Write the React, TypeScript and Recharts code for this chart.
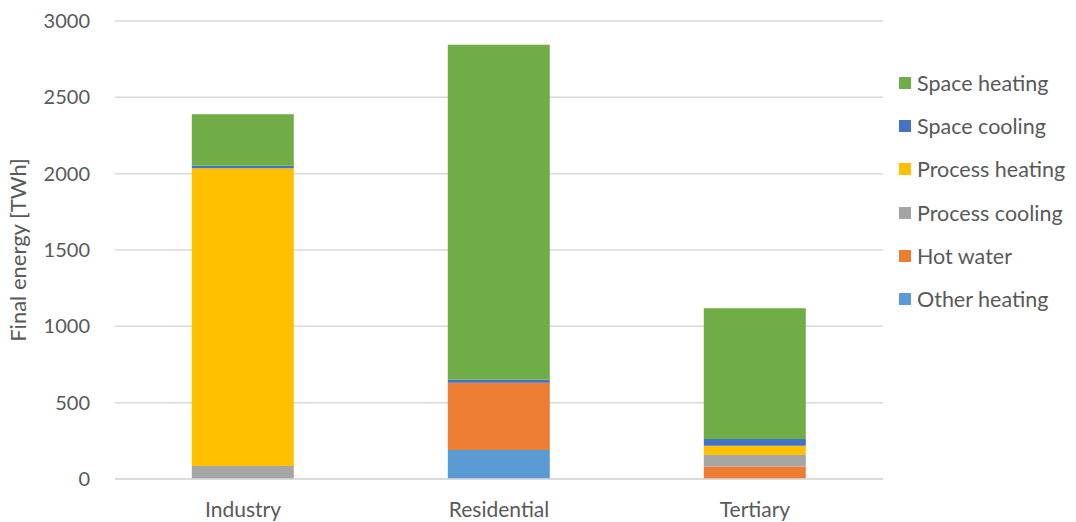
import { BarChart, Bar, XAxis, YAxis, CartesianGrid } from "recharts";

// sectors on the x axis
const sectors = ["Industry", "Residential", "Tertiary"];

// stacked from the bottom up, values in TWh
const otherHeating = [0, 190, 0];
const hotWater = [0, 440, 82];
const processCooling = [85, 0, 75];
const processHeating = [1950, 0, 61];
const spaceCooling = [17, 22, 44];
const spaceHeating = [337, 2192, 856];

const yTicks = [0, 500, 1000, 1500, 2000, 2500, 3000];

const SERIES = [
  { key: "Other heating", values: otherHeating, color: "#5B9BD5" },
  { key: "Hot water", values: hotWater, color: "#ED7D31" },
  { key: "Process cooling", values: processCooling, color: "#A5A5A5" },
  { key: "Process heating", values: processHeating, color: "#FFC000" },
  { key: "Space cooling", values: spaceCooling, color: "#4472C4" },
  { key: "Space heating", values: spaceHeating, color: "#70AD47" },
];

const FONT = "Lato, 'Open Sans', sans-serif";
const TEXT = "#595959";

const data = sectors.map((name, i) => {
  const row: Record<string, string | number> = { name };
  for (const s of SERIES) row[s.key] = s.values[i];
  return row;
});

// legend sits outside the svg so it does not eat plot space
function LegendBox() {
  const items = [...SERIES].reverse();
  return (
    <div
      style={{
        position: "absolute",
        left: 899,
        top: 61,
        fontFamily: FONT,
        fontSize: 21.5,
        color: TEXT,
        whiteSpace: "nowrap",
      }}
    >
      {items.map((s) => (
        <div key={s.key} style={{ display: "flex", alignItems: "center", height: 43.3 }}>
          <span style={{ width: 12, height: 12, background: s.color, marginRight: 6, flexShrink: 0 }} />
          <span>{s.key}</span>
        </div>
      ))}
    </div>
  );
}

export default function App() {
  return (
    <div style={{ position: "absolute", left: 0, top: 0, width: 1076, height: 522, background: "#fff", overflow: "hidden" }}>
      <BarChart
        width={1076}
        height={522}
        data={data}
        margin={{ top: 21, right: 193, bottom: 0, left: 35 }}
        barCategoryGap="30%"
      >
        <CartesianGrid vertical={false} stroke="#D9D9D9" strokeWidth={1.5} />
        <XAxis
          dataKey="name"
          axisLine={{ stroke: "#D9D9D9", strokeWidth: 1.5 }}
          tickLine={false}
          tickMargin={17}
          height={43}
          tick={{ fill: TEXT, fontSize: 21, fontFamily: FONT }}
        />
        <YAxis
          domain={[0, 3000]}
          ticks={yTicks}
          axisLine={false}
          tickLine={false}
          tickMargin={19}
          width={80}
          tick={{ fill: TEXT, fontSize: 20, fontFamily: FONT }}
          label={{
            value: "Final energy [TWh]",
            angle: -90,
            position: "insideLeft",
            offset: -17,
            style: { fill: TEXT, fontSize: 22, fontFamily: FONT, textAnchor: "middle" },
          }}
        />
        {SERIES.map((s) => (
          <Bar
            key={s.key}
            dataKey={s.key}
            stackId="a"
            fill={s.color}
            isAnimationActive={false}
          />
        ))}
      </BarChart>
      <LegendBox />
    </div>
  );
}
